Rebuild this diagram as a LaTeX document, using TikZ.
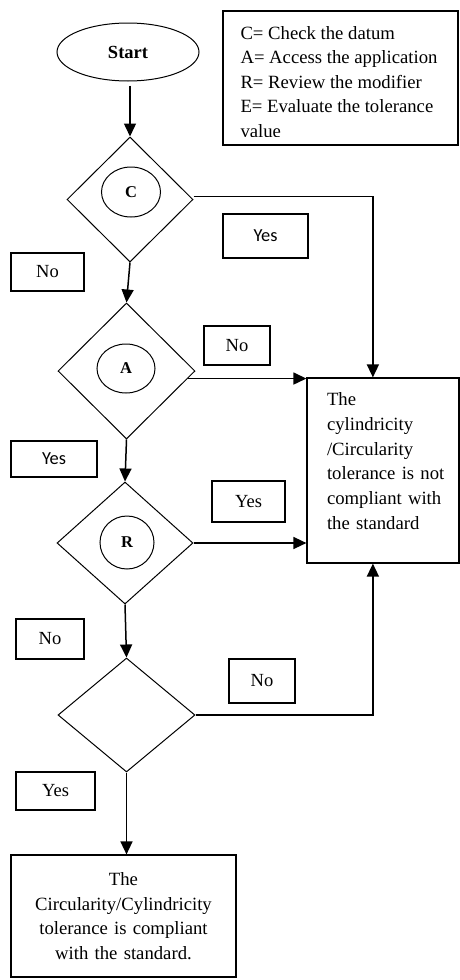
\documentclass[tikz,border=0pt]{standalone}
\usepackage{fontspec}
\setmainfont{Liberation Serif}
\newfontfamily\yesfont{Carlito}
\usetikzlibrary{shapes.geometric,arrows.meta,calc,positioning}

\begin{document}
\begin{tikzpicture}[x=1pt, y=-1pt, line width=1pt,
    font=\fontsize{18.7}{24.7}\selectfont,
    decision/.style={diamond, draw, inner sep=0pt},
    letter/.style={ellipse, draw, inner sep=0pt, font=\fontsize{16.5}{20}\selectfont\bfseries},
    tag/.style={rectangle, draw, line width=1.2pt, inner sep=0pt, font=\fontsize{18.5}{22}\selectfont},
    sanstag/.style={tag, font=\fontsize{18.4}{22}\yesfont},
    flow/.style={-{Triangle[length=13pt,width=12pt]}, line width=1.5pt}]
   \useasboundingbox (0,0) rectangle (460,980);

   % start and legend
   \node[ellipse, draw, inner sep=0pt, minimum width=142pt, minimum height=58pt,
         font=\fontsize{18.5}{22}\selectfont\bfseries] (start) at (128,52) {Start};
   \node[draw, line width=1.2pt, inner sep=0pt, minimum width=235pt, minimum height=134pt] (legend) at (340.5,78) {};
   \begin{scope}
    \clip (legend.north west) rectangle (458,136.5);
    \foreach \txt [count=\i] in {C= Check the datum, A= Access the application,
                                 R= Review the modifier, E= Evaluate the tolerance, value}
      \node[anchor=base west, inner sep=0pt] (leg\i) at (240,14.5+24.5*\i) {\txt};
   \end{scope}

   % decisions
   \node[decision, minimum width=126pt, minimum height=125pt] (dC) at (130,199.5) {};
   \node[decision, minimum width=137pt, minimum height=136pt] (dA) at (126.5,371) {};
   \node[decision, minimum width=136pt, minimum height=122pt] (dR) at (125,543) {};
   \node[decision, minimum width=137pt, minimum height=114pt] (dE) at (126.5,715) {};
   \node[letter, minimum width=59pt, minimum height=50pt] (cC) at (131,192) {C};
   \node[letter, minimum width=58pt, minimum height=49pt] (cA) at (126,368.5) {A};
   \node[letter, minimum width=54pt, minimum height=53pt] (cR) at (127,542.5) {R};

   % outcomes
   \node[draw, line width=1.2pt, inner sep=0pt, minimum width=152pt, minimum height=185pt] (fail) at (383,470.5) {};
   \node[anchor=north west, inner sep=0pt, text width=120pt, align=left] (failtxt) at (326.5,392.2)
        {The\\cylindricity\\/Circularity\\\makebox[120pt][s]{tolerance is not}\\\makebox[120pt][s]{compliant with}\\the standard};
   \node[draw, line width=1.2pt, inner sep=0pt, minimum width=225pt, minimum height=122pt,
         text width=215pt, align=center] (pass) at (123.5,916)
        {The\\Circularity/Cylindricity\\tolerance is compliant\\with the standard.};

   % answers
   \node[sanstag, minimum width=85pt, minimum height=44pt] (yesC) at (265.5,236) {Yes};
   \node[tag, minimum width=73pt, minimum height=38pt] (noC) at (47.5,272) {No};
   \node[tag, minimum width=66pt, minimum height=39pt] (noA) at (237,345.5) {No};
   \node[sanstag, minimum width=86pt, minimum height=36pt] (yesA) at (54,459) {Yes};
   \node[tag, minimum width=73pt, minimum height=41pt] (yesR) at (248.5,501.5) {Yes};
   \node[tag, minimum width=68pt, minimum height=40pt] (noR) at (50,639) {No};
   \node[tag, minimum width=66pt, minimum height=44pt] (noE) at (262,681) {No};
   \node[tag, minimum width=79pt, minimum height=38pt] (yesE) at (55.5,791) {Yes};

   \begin{scope}[flow]
    \draw[shorten <=4pt] (dC.north |- start.south) -- (dC.north);
    \draw (dC.south) -- (dA.north);
    \draw (dA.south) -- (dR.north);
    \draw (dR.south) -- (dE.north);
    \draw (dE.south) -- (dE.south |- pass.north);
    \draw ([yshift=3pt]dC.east) -| ($(fail.north west)!0.434!(fail.north east)$);
    \draw (dA.-7.5) -- (dA.-7.5 -| fail.west);
    \draw (dR.east) -- (dR.east -| fail.west);
    \draw (dE.east) -| ($(fail.south west)!0.434!(fail.south east)$);
   \end{scope}
\end{tikzpicture}
\end{document}
